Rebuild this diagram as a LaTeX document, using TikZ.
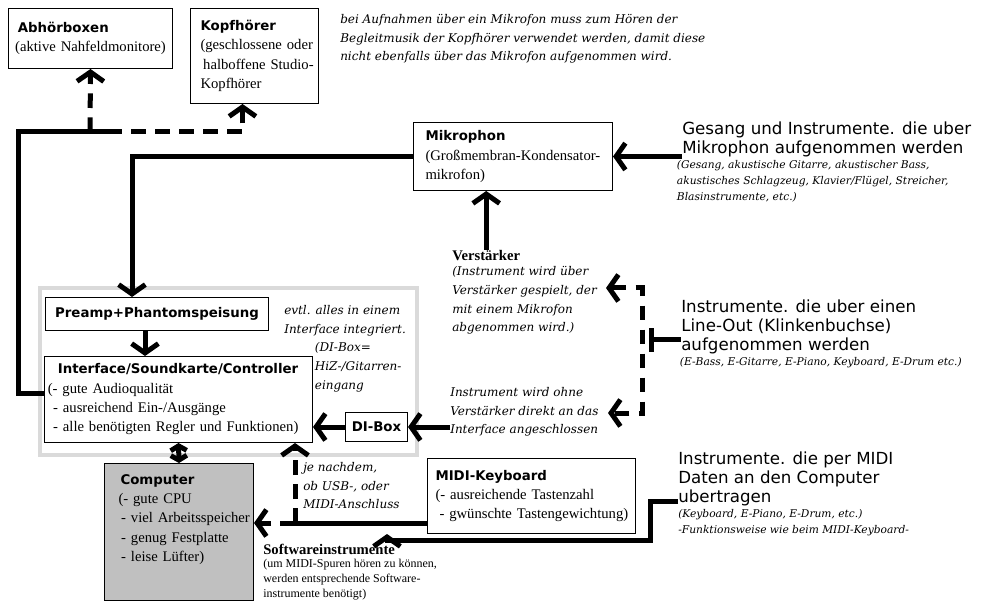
\documentclass[tikz,border=0pt]{standalone}
\usepackage{fontspec}
\setmainfont{Liberation Serif}
\newfontfamily\headfont{DejaVu Sans}
\newfontfamily\notefont{DejaVu Serif}
\usepackage{tikz}
\usetikzlibrary{arrows.meta,positioning}

\definecolor{framegray}{HTML}{DADADA}
\definecolor{pcgray}{HTML}{C0C0C0}
\newcommand{\unithead}[1]{{\headfont\bfseries\fontsize{10}{12}\selectfont #1}}

\begin{document}
\begin{tikzpicture}[
        x=0.75pt, y=-0.75pt,
        unit/.style={rectangle, draw=black, line width=0.75pt, fill=white, anchor=north west,
            align=left, inner sep=0pt, font=\fontsize{11}{14.5}\selectfont,
            execute at begin node={\setlength{\leftskip}{#1}}},
        unit/.default=6pt,
        tag/.style={rectangle, draw=black, line width=0.75pt, fill=white, anchor=north west,
            inner sep=0pt, font=\headfont\bfseries\fontsize{10}{12}\selectfont},
        remark/.style={anchor=north west, align=left, inner sep=0pt,
            font=\notefont\itshape\fontsize{9}{14}\selectfont},
        smallremark/.style={anchor=north west, align=left, inner sep=0pt,
            font=\notefont\itshape\fontsize{8}{12}\selectfont},
        source/.style={anchor=north west, align=left, inner sep=0pt,
            font=\headfont\fontsize{12.5}{14}\selectfont},
        heading/.style={anchor=north west, inner sep=0pt, font=\bfseries\fontsize{11}{13}\selectfont},
        fineprint/.style={anchor=north west, align=left, inner sep=0pt, font=\fontsize{9}{11.25}\selectfont},
        wire/.style={line width=3.75pt},
        feed/.style={wire, -{Straight Barb[length=7pt,width=20pt]}},
        dashfeed/.style={feed, dash pattern=on 11pt off 7pt},
        dashboth/.style={wire, dash pattern=on 11pt off 7pt,
            {Straight Barb[length=7pt,width=20pt]}-{Straight Barb[length=7pt,width=20pt]}}
    ]
    \useasboundingbox (0,0) rectangle (992,609);

    % Rahmen um Preamp, Interface und DI-Box
    \draw[line width=3pt, framegray] (40,288) rectangle (417,455);

    % Geraete
    \node[unit=5pt, text width=123pt, minimum height=45pt] (monitors) at (8,8)
        {\hspace*{2pt}\unithead{Abhörboxen}\\(aktive Nahfeldmonitore)};
    \node[unit=7.5pt, text width=96pt, minimum height=71.25pt] (phones) at (190,8)
        {\unithead{Kopfhörer}\\(geschlossene oder\\\hspace*{2pt}halboffene Studio-\\Kopfhörer};
    \node[unit=9pt, text width=149.25pt, minimum height=51pt] (mic) at (413,122)
        {\unithead{Mikrophon}\\(Großmembran-Kondensator-\\mikrofon)};
    \node[tag, minimum width=167.25pt, minimum height=24.75pt] (preamp) at (45,297)
        {Preamp+Phantomspeisung};
    \node[unit=2.5pt, text width=201pt, minimum height=64.5pt] (iface) at (44,356)
        {\hspace*{7.5pt}\unithead{Interface/Soundkarte/Controller}\\(- gute Audioqualität\\
         \hspace*{4pt}- ausreichend Ein-/Ausgänge\\\hspace*{4pt}- alle benötigten Regler und Funktionen)};
    \node[tag, minimum width=46.5pt, minimum height=21.75pt] (dibox) at (345,412) {DI-Box};
    \node[unit=10.5pt, fill=pcgray, text width=111.75pt, inner ysep=8pt, text height=7.5pt, text depth=79pt] (computer) at (104,463)
        {\hspace*{1.5pt}\unithead{Computer}\\(- gute CPU\\\hspace*{2pt}- viel Arbeitsspeicher\\\hspace*{2pt}- genug Festplatte\\\hspace*{2pt}- leise Lüfter)};
    \node[unit=6pt, text width=156pt, minimum height=56.25pt] (keyboard) at (427,458)
        {\unithead{MIDI-Keyboard}\\(- ausreichende Tastenzahl\\\hspace*{3pt}- gwünschte Tastengewichtung)};

    % Hinweise und Quellen
    \node[remark] (hint) at (340,14)
        {bei Aufnahmen über ein Mikrofon muss zum Hören der\\Begleitmusik der Kopfhörer verwendet werden, damit diese\\nicht ebenfalls über das Mikrofon aufgenommen wird.};
    \node[source] (vocals) at (682,122) {Gesang und Instrumente. die uber\\Mikrophon aufgenommen werden};
    \node[smallremark, below right=2pt and -4pt of vocals.south west, anchor=north west] (vocalslist)
        {(Gesang, akustische Gitarre, akustischer Bass,\\akustisches Schlagzeug, Klavier/Flügel, Streicher,\\Blasinstrumente, etc.)};
    \node[heading] (amp) at (452,250) {Verstärker};
    \node[remark, below=4pt of amp.south west, anchor=north west] (amptext)
        {(Instrument wird über\\Verstärker gespielt, der\\mit einem Mikrofon\\abgenommen wird.)};
    \node[source] (lineout) at (681,300) {Instrumente. die uber einen\\Line-Out (Klinkenbuchse)\\aufgenommen werden};
    \node[smallremark, below right=2pt and -1pt of lineout.south west, anchor=north west] (lineoutlist)
        {(E-Bass, E-Gitarre, E-Piano, Keyboard, E-Drum etc.)};
    \node[remark] (direct) at (450,387) {Instrument wird ohne\\Verstärker direkt an das\\Interface angeschlossen};
    \node[remark] (bundlenote) at (284,305)
        {evtl. alles in einem\\Interface integriert.\\\hspace*{23pt}(DI-Box=\\\hspace*{23pt}HiZ-/Gitarren-\\\hspace*{23pt}eingang};
    \node[remark] (usbnote) at (303,462) {je nachdem,\\ob USB-, oder\\MIDI-Anschluss};
    \node[heading] (softsynth) at (263,544) {Softwareinstrumente};
    \node[fineprint, below=3pt of softsynth.south west, anchor=north west] (softsynthtext)
        {(um MIDI-Spuren hören zu können,\\werden entsprechende Software-\\instrumente benötigt)};
    \node[source] (midisrc) at (678,452) {Instrumente. die per MIDI\\Daten an den Computer\\ubertragen};
    \node[smallremark, below=2pt of midisrc.south west, anchor=north west] (midisrclist)
        {(Keyboard, E-Piano, E-Drum, etc.)\\-Funktionsweise wie beim MIDI-Keyboard-};

    % Verbindungen
    \coordinate (loopcorner) at (18,132);
    \coordinate (monsplit) at (90,132);
    \coordinate (loopend) at (107,132);
    \draw[wire] ([yshift=4.5pt]iface.west) -| (loopcorner) -- (loopend);
    \draw[dashfeed] (monsplit) -- (monitors.south);
    \draw[dashfeed] (loopend) -| ([xshift=-9pt]phones.south);

    \coordinate (miccolumn) at (132,0);
    \draw[feed] (mic.west) -| (miccolumn |- preamp.north);
    \draw[feed] (vocals.west |- mic.east) -- (mic.east);
    \draw[feed] (amp.north) -- (amp.north |- mic.south);
    \draw[feed] ([xshift=-9pt]preamp.south) -- ([xshift=-9pt]preamp.south |- iface.north);
    \draw[wire, {Straight Barb[length=3.5pt,width=12pt]}-{Straight Barb[length=3.5pt,width=12pt]}]
        (iface.south) -- (computer.north);

    \draw[feed] (direct.west |- dibox.east) -- (dibox.east);
    \draw[feed] (dibox.west) -- (dibox.west -| iface.east);

    \coordinate (railtop) at (642,288);
    \coordinate (railbottom) at (642,413);
    \coordinate (ampin) at (606,288);
    \coordinate (directin) at (608,413);
    \coordinate (railjoint) at (649,340);
    \draw[dashboth] (ampin) -- (railtop) -- (railbottom) -- (directin);
    \draw[wire, {Bar[width=18pt]}-] (railjoint) -- (railjoint -| lineout.west);

    \coordinate (usbjoint) at (295,523);
    \draw[wire] (keyboard.west |- usbjoint) -- (usbjoint);
    \draw[dashfeed] (usbjoint) -- (usbjoint |- iface.south);
    \draw[dashfeed] (usbjoint) -- (usbjoint -| computer.east);

    \coordinate (midientry) at (678,501);
    \coordinate (midibend) at (650,540);
    \coordinate (keyboardin) at (387,0);
    \draw[feed] (midientry) -| (midibend) -| (keyboardin |- keyboard.south);

\end{tikzpicture}
\end{document}
